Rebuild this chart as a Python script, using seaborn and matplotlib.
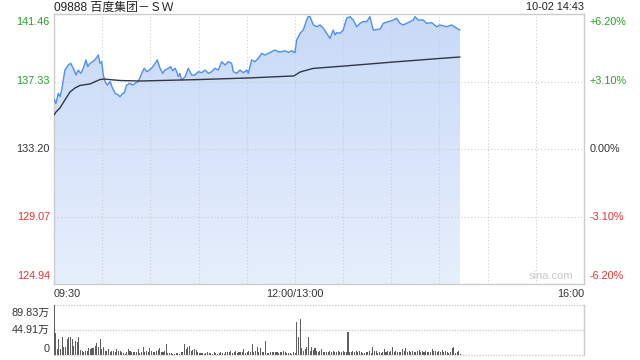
import numpy as np
import pandas as pd
import matplotlib
matplotlib.use("Agg")
import matplotlib.pyplot as plt
from matplotlib.patches import Polygon
from matplotlib.colors import LinearSegmentedColormap
import seaborn as sns

# ---------------- data ----------------
title_text = "09888 百度集团－ＳＷ"
date_text = "10-02 14:43"

# minutes since 09:30 (lunch break removed: 12:00 == 13:00 == minute 150)
price_minutes = [0, 1.2, 2.7, 3.7, 4.8, 6.8, 8.9, 10.4, 12.0, 13.7, 15.1, 16.6, 17.8, 18.9, 19.9,
                 21.0, 22.4, 24.1, 25.5, 27.6, 28.6, 29.7, 30.7, 31.8, 33.2, 34.9, 36.5, 38.0,
                 40.0, 41.1, 42.8, 43.6, 45.2, 47.3, 49.0, 51.1, 52.5, 54.6, 56.2, 57.7, 59.3,
                 60.8, 62.3, 64.3, 66.0, 67.7, 69.1, 71.2, 72.6, 73.9, 75.3, 76.4, 77.4, 78.4,
                 79.5, 81.6, 83.6, 85.7, 87.8, 89.8, 92.0, 94.0, 96.1, 98.2, 100.2, 102.3, 104.4,
                 106.5, 108.5, 110.6, 111.7, 113.7, 115.8, 117.9, 120.0, 121.0, 123.1, 125.1,
                 127.2, 129.3, 131.4, 133.4, 135.5, 137.6, 139.7, 141.8, 143.8, 145.9, 148.0,
                 150.0, 151.1, 153.2, 155.2, 157.3, 158.3, 159.4, 161.5, 163.6, 165.6, 167.7,
                 169.8, 171.8, 173.9, 175.0, 176.0, 178.1, 180.1, 182.2, 184.3, 186.3, 188.5,
                 190.5, 192.6, 194.7, 196.7, 198.8, 203.0, 205.0, 208.1, 211.3, 213.3, 215.4,
                 217.5, 219.6, 223.7, 224.8, 226.8, 229.9, 232.0, 235.2, 238.3, 240.3, 244.5,
                 247.6, 250.7, 252.8]
price_values = [136.24, 135.99, 136.61, 136.40, 136.81, 138.03, 138.34, 138.44, 138.14, 137.73,
                138.03, 137.83, 138.03, 138.34, 138.65, 138.24, 138.44, 138.54, 138.65, 138.95,
                138.44, 138.54, 137.73, 137.32, 137.11, 137.32, 136.91, 136.61, 136.50, 136.40,
                136.61, 136.61, 137.11, 137.22, 137.11, 137.26, 137.32, 137.83, 138.14, 137.93,
                138.03, 138.14, 138.34, 138.65, 138.14, 137.83, 138.03, 138.14, 138.24, 137.99,
                138.14, 137.93, 137.62, 137.83, 137.42, 137.62, 138.14, 137.73, 137.73, 137.93,
                137.87, 138.03, 137.83, 137.93, 138.14, 138.03, 138.54, 138.34, 138.54, 138.44,
                137.93, 137.83, 138.03, 137.87, 138.03, 137.83, 138.65, 138.54, 138.75, 139.05,
                138.95, 139.05, 139.15, 139.26, 139.15, 139.15, 139.21, 139.11, 139.21, 139.09,
                139.87, 140.28, 140.48, 141.09, 141.30, 141.30, 140.79, 140.68, 140.79, 140.59,
                140.28, 139.97, 140.48, 140.18, 140.32, 140.28, 140.48, 141.20, 141.30, 141.09,
                140.68, 140.89, 140.99, 140.99, 141.30, 140.48, 140.54, 140.89, 140.99, 141.09,
                141.20, 140.89, 140.79, 140.89, 141.09, 141.30, 141.09, 141.09, 140.89, 140.93,
                140.68, 140.79, 140.68, 140.79, 140.59, 140.48]

avg_minutes = [0, 1.2, 3.7, 6.8, 10.0, 13.0, 16.2, 22.4, 28.6, 31.1, 41.1, 53.5, 66.0, 90.9,
               122.0, 149.4, 153.2, 161.3, 181.2, 211.1, 240.3, 252.8]
avg_values = [135.28, 135.46, 135.71, 136.20, 136.69, 136.93, 137.09, 137.18, 137.45, 137.48,
              137.39, 137.36, 137.39, 137.45, 137.55, 137.67, 137.91, 138.13, 138.28, 138.52,
              138.74, 138.83]

# volume per minute, in 万 shares
volume_values = [89.83, 39, 11, 29, 11, 32, 14, 15, 29, 33,
                 33, 29, 17, 25, 23, 32, 9, 8, 5, 8,
                 8, 13, 11, 12, 12, 17, 21, 14, 28, 11,
                 14, 8, 8, 11, 5, 8, 8, 5, 11, 8,
                 8, 6, 3, 2, 5, 11, 8, 5, 5, 5,
                 6, 11, 3, 5, 14, 5, 8, 5, 13, 8,
                 5, 5, 8, 9, 13, 5, 5, 8, 19, 3,
                 3, 3, 2, 2, 3, 3, 2, 5, 5, 19,
                 11, 14, 17, 8, 9, 11, 9, 5, 3, 3,
                 3, 2, 3, 5, 3, 3, 2, 5, 3, 2,
                 3, 5, 3, 2, 5, 6, 5, 8, 3, 5,
                 8, 3, 5, 5, 5, 11, 3, 5, 8, 5,
                 19, 5, 8, 14, 5, 13, 5, 5, 25, 3,
                 3, 5, 5, 6, 6, 5, 3, 5, 5, 8,
                 5, 3, 3, 3, 2, 5, 3, 59, 32, 64,
                 13, 8, 11, 14, 33, 8, 15, 9, 13, 8,
                 5, 8, 11, 5, 6, 6, 5, 8, 5, 8,
                 5, 6, 8, 5, 5, 8, 5, 5, 42, 5,
                 5, 8, 5, 8, 6, 8, 5, 3, 3, 5,
                 5, 8, 3, 14, 8, 8, 3, 5, 3, 5,
                 11, 5, 8, 5, 8, 15, 5, 8, 5, 5,
                 6, 11, 8, 12, 5, 8, 6, 8, 5, 6,
                 8, 9, 5, 8, 5, 8, 5, 5, 5, 11,
                 8, 8, 5, 8, 5, 9, 5, 8, 5, 3,
                 5, 13, 15, 3, 5, 8, 2]
last_minute = 253

price_ticks = [141.46, 137.33, 133.20, 129.07, 124.94]
price_labels = ["141.46", "137.33", "133.20", "129.07", "124.94"]
pct_labels = ["+6.20%", "+3.10%", "0.00%", "-3.10%", "-6.20%"]
vol_ticks = [89.83, 44.91, 0]
vol_labels = ["89.83万", "44.91万", "0"]
time_labels = ["09:30", "12:00/13:00", "16:00"]
time_positions = [0, 150, 330]

# ---------------- style ----------------
sns.set_theme(style="white")
plt.rcParams["font.family"] = ["Liberation Sans", "Noto Sans CJK SC", "DejaVu Sans"]

GREEN = "#22a322"
RED = "#e8312f"
DARK = "#333333"
GRID = "#cdcdcd"
BORDER = "#cccccc"

W, H = 640, 360
fig = plt.figure(figsize=(6.4, 3.6), dpi=100)
fig.patch.set_facecolor("white")
ax = fig.add_axes([54 / W, 1 - 284 / H, 530 / W, 270 / H])
axv = fig.add_axes([54 / W, 1 - 355 / H, 530 / W, 50 / H])

ymin, ymax = price_ticks[-1], price_ticks[0]

# ---------------- price panel ----------------
price_df = pd.DataFrame({"minute": price_minutes, "price": price_values})
avg_df = pd.DataFrame({"minute": avg_minutes, "price": avg_values})

verts = [(price_minutes[0], ymin)] + list(zip(price_minutes, price_values)) + [(price_minutes[-1], ymin)]
poly = Polygon(verts, closed=True, facecolor="none", edgecolor="none")
ax.add_patch(poly)
cmap = LinearSegmentedColormap.from_list("fill", ["#e7effc", "#c8daf8"])
grad = np.linspace(0, 1, 256).reshape(-1, 1)
im = ax.imshow(grad, extent=[price_minutes[0], price_minutes[-1], ymin, ymax], origin="lower",
               aspect="auto", cmap=cmap, zorder=0.5)
im.set_clip_path(poly)

sns.lineplot(data=price_df, x="minute", y="price", ax=ax, color="#4f8ff0", linewidth=1.0, zorder=3)
sns.lineplot(data=avg_df, x="minute", y="price", ax=ax, color="#2f3646", linewidth=1.0, zorder=3)

ax.set_xlim(0, 330)
ax.set_ylim(ymin, ymax)
ax.set_xticks(np.arange(0, 331, 30))
ax.set_yticks(price_ticks[1:-1])
ax.tick_params(left=False, bottom=False, labelleft=False, labelbottom=False)
ax.set_xlabel("")
ax.set_ylabel("")
ax.grid(True, linestyle=(0, (1, 2)), color=GRID, linewidth=0.8, zorder=1)
ax.set_axisbelow(True)
for s in ax.spines.values():
    s.set_color(BORDER)
    s.set_linewidth(1.0)
    s.set_visible(True)

lcolors = [GREEN, GREEN, DARK, RED, RED]
vas = ["top", "center", "center", "center", "bottom"]
ytr = ax.get_yaxis_transform()
for val, lab, pct, c, va in zip(price_ticks, price_labels, pct_labels, lcolors, vas):
    dy = -2 if va == "top" else (2 if va == "bottom" else 0)
    ax.annotate(lab, xy=(0, val), xycoords=ytr, xytext=(-3, dy), textcoords="offset points",
                ha="right", va=va, color=c, fontsize=7.8)
    ax.annotate(pct, xy=(1, val), xycoords=ytr, xytext=(4, dy), textcoords="offset points",
                ha="left", va=va, color=c, fontsize=7.8)

xtr = ax.get_xaxis_transform()
for lab, pos, ha in zip(time_labels, time_positions, ["left", "center", "right"]):
    ax.annotate(lab, xy=(pos, 0), xycoords=xtr, xytext=(0, -7), textcoords="offset points",
                ha=ha, va="center", color=DARK, fontsize=7.8)

ax.text(0.98, 0.012, "sina.com", transform=ax.transAxes, ha="right", va="bottom",
        color="#c8c8c8", fontsize=8)

fig.text(54 / W, 1 - 7.5 / H, title_text, ha="left", va="center", color="#222222", fontsize=8.6,
         family=["Liberation Sans", "Noto Sans CJK SC", "DejaVu Sans"])
fig.text(584 / W, 1 - 7.5 / H, date_text, ha="right", va="center", color="#222222", fontsize=7.8)

# ---------------- volume panel ----------------
vol_minutes = np.linspace(0, last_minute, len(volume_values))
axv.bar(vol_minutes, volume_values, width=0.65, color="#5e5e5e", linewidth=0, zorder=2)
axv.set_xlim(0, 330)
axv.set_ylim(0, vol_ticks[0])
axv.tick_params(left=False, bottom=False, labelleft=False, labelbottom=False)
axv.grid(False)
for side in ["top", "bottom", "left"]:
    axv.spines[side].set_visible(False)
axv.spines["right"].set_color(BORDER)
axv.spines["right"].set_linewidth(1.0)
for val in vol_ticks:
    axv.axhline(val, color=GRID, linestyle=(0, (1, 1)), linewidth=1.0, zorder=1, clip_on=False)
vytr = axv.get_yaxis_transform()
for val, lab, va in zip(vol_ticks, vol_labels, ["top", "center", "bottom"]):
    dy = -2 if va == "top" else (1 if va == "bottom" else 0)
    axv.annotate(lab, xy=(0, val), xycoords=vytr, xytext=(-3, dy), textcoords="offset points",
                 ha="right", va=va, color=DARK, fontsize=7.8)

fig.savefig("out.png", dpi=100)
